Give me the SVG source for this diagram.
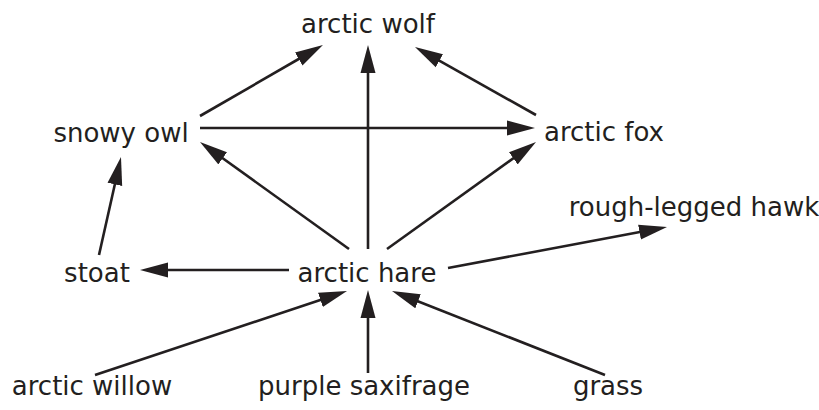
<svg xmlns="http://www.w3.org/2000/svg" width="819" height="410" viewBox="0 0 819 410">
<defs>
<style>
text{font-family:"DejaVu Sans",Verdana,sans-serif;font-size:26px;fill:#231f20;text-anchor:middle}
.e{stroke:#231f20;stroke-width:2.6;fill:none;marker-end:url(#ah)}
</style>
<marker id="ah" markerUnits="userSpaceOnUse" markerWidth="28" markerHeight="16" viewBox="0 0 28 16" refX="18" refY="8" orient="auto">
<path d="M0,0.5 L28,8 L0,15.5 z" fill="#231f20"/>
</marker>
</defs>
<rect width="819" height="410" fill="#fff"/>
<g id="connectors">
<line class="e" x1="200" y1="116" x2="314.3" y2="50"/>
<line class="e" x1="368" y1="249" x2="368" y2="55"/>
<line class="e" x1="536" y1="115" x2="423.7" y2="51.9"/>
<line class="e" x1="200" y1="128" x2="525" y2="128"/>
<line class="e" x1="349" y1="249" x2="208.1" y2="147.8"/>
<line class="e" x1="387" y1="249" x2="527.9" y2="147.8"/>
<line class="e" x1="448" y1="268" x2="657.2" y2="228.8"/>
<line class="e" x1="289" y1="270" x2="150" y2="270"/>
<line class="e" x1="99" y1="255" x2="118.8" y2="166.8"/>
<line class="e" x1="95" y1="375" x2="337.5" y2="294.2"/>
<line class="e" x1="368" y1="373" x2="368" y2="300"/>
<line class="e" x1="605" y1="375" x2="401.3" y2="294.7"/>
</g>
<g id="arctic-wolf"><text x="368" y="33">arctic wolf</text></g>
<g id="snowy-owl"><text x="121" y="142">snowy owl</text></g>
<g id="arctic-fox"><text x="604" y="141">arctic fox</text></g>
<g id="rough-legged-hawk"><text x="694" y="216">rough-legged hawk</text></g>
<g id="stoat"><text x="97" y="282">stoat</text></g>
<g id="arctic-hare"><text x="367" y="282">arctic hare</text></g>
<g id="arctic-willow"><text x="92" y="395">arctic willow</text></g>
<g id="purple-saxifrage"><text x="364" y="395">purple saxifrage</text></g>
<g id="grass"><text x="608" y="395">grass</text></g>
</svg>
